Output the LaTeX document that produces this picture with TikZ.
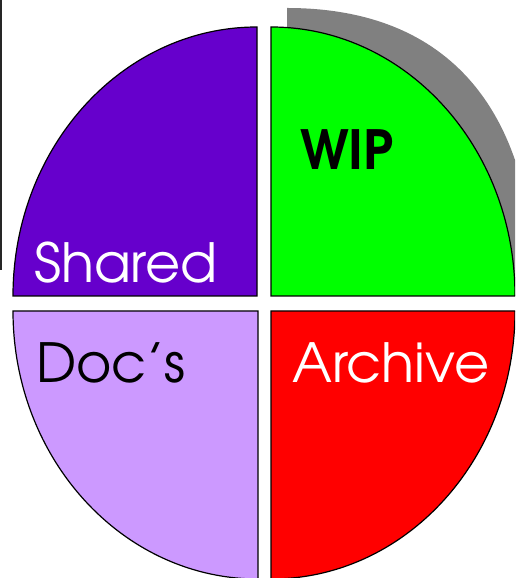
\documentclass[tikz,border=0pt]{standalone}
\usepackage{fontspec}
\setmainfont{texgyreadventor}[Extension=.otf, UprightFont=*-regular, BoldFont=*-bold]
\definecolor{qpurple}{HTML}{6600CC}
\definecolor{qgreen}{HTML}{00FF00}
\definecolor{qlilac}{HTML}{CC99FF}
\definecolor{qred}{HTML}{FF0000}
\definecolor{qshadow}{HTML}{808080}
\begin{document}
\begin{tikzpicture}[x=1pt,y=1pt,
  quad/.style={draw=black,line width=1.2pt,line join=miter},
  lbl/.style={anchor=base west,inner sep=0pt,font=\fontsize{54}{60}\selectfont}]
\useasboundingbox (0,0) rectangle (515,578);
\clip (0,0) rectangle (515,578);
% left rule
\draw[line width=2pt,black!85] (1,578) -- (1,308);
% shadow
\fill[qshadow] (287,282) -- (287,570) .. controls (448,570) and (535,469) .. (535,282) -- cycle;
% quadrants
\draw[quad,fill=qpurple] (257,282) -- (13,282) arc[start angle=180,end angle=90,x radius=244pt,y radius=269pt] -- cycle;
\draw[quad,fill=qgreen] (271,282) -- (271,551) arc[start angle=90,end angle=0,x radius=244pt,y radius=269pt] -- cycle;
\draw[quad,fill=qlilac] (258,267) -- (13,267) arc[start angle=180,end angle=270,x radius=245pt,y radius=268pt] -- cycle;
\draw[quad,fill=qred] (271,267) -- (515,267) arc[start angle=0,end angle=-90,x radius=244pt,y radius=268pt] -- cycle;
% labels
\node[lbl,text=white] (shared) at (34,295) {Shared};
\node[lbl,text=black,font=\fontsize{54}{60}\selectfont\bfseries] (wip) at (300,408) {WIP};
\node[lbl,text=black] (docs) at (36,195) {Doc’s};
\node[lbl,text=white] (archive) at (292,195) {Archive};
\end{tikzpicture}
\end{document}
